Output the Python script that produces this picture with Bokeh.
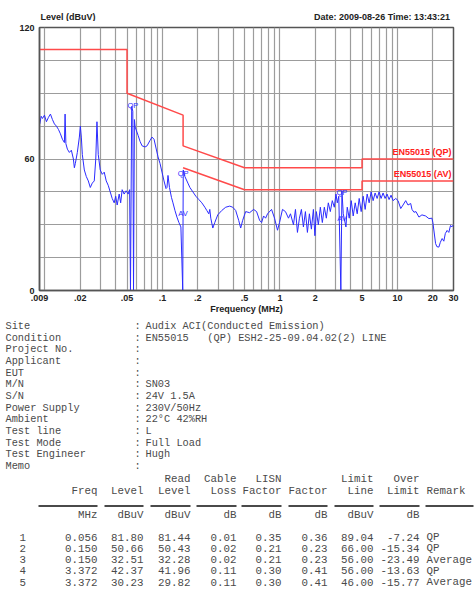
from bokeh.plotting import figure
from bokeh.models import FixedTicker, Range1d
from bokeh.layouts import column
from bokeh.embed import file_html
from bokeh.resources import INLINE
from bokeh.core.properties import value

# ---------------- data ----------------
trace_freq = (
    [0.00905, 0.0093, 0.00954, 0.00992, 0.01031, 0.01073, 0.01115, 0.0116, 0.01206, 0.01254,
     0.01304, 0.01356, 0.0141, 0.01466, 0.01486, 0.01509, 0.01554, 0.01616, 0.0168, 0.01748,
     0.01782, 0.01817, 0.01889, 0.01965, 0.02003, 0.02043, 0.02083, 0.02166, 0.02252, 0.02342,
     0.02435, 0.02532, 0.02632, 0.02711, 0.02775, 0.02846, 0.02959, 0.03078, 0.03199, 0.03327,
     0.03459, 0.03597, 0.0374, 0.03889, 0.04005, 0.04123, 0.04288, 0.04415, 0.04546, 0.04727,
     0.04915, 0.05111, 0.05263, 0.0535, 0.0548, 0.056, 0.0568, 0.0578]
    + [0.0586, 0.06212, 0.06458, 0.06717, 0.07121, 0.07404, 0.0785, 0.08163, 0.08489, 0.08825,
       0.09178, 0.09543, 0.09923, 0.1032, 0.1073, 0.1094, 0.1116, 0.1149, 0.1194, 0.123,
       0.1279, 0.133, 0.1382, 0.1437, 0.149, 0.1505]
    + [0.1554, 0.1648, 0.1714, 0.1817, 0.1927, 0.2043, 0.2166, 0.2297, 0.2388, 0.2482,
       0.2532, 0.2581, 0.2685, 0.2791, 0.2959, 0.3199, 0.3459, 0.374, 0.3966, 0.4205,
       0.4459, 0.4637, 0.482, 0.5111, 0.5525, 0.5973, 0.6334, 0.6718, 0.6986, 0.7264,
       0.7553, 0.7853, 0.8489, 0.9, 0.954, 0.9923, 1.052, 1.115, 1.183, 1.23,
       1.304, 1.356, 1.41, 1.466, 1.524, 1.585, 1.648, 1.714, 1.782, 1.853,
       1.927, 1.984, 2.042, 2.124, 2.208, 2.296, 2.388, 2.483, 2.582, 2.685,
       2.791, 2.903, 3.0, 3.078, 3.169, 3.30, 3.372, 3.459, 3.647, 3.74,
       3.889, 4.044, 4.205, 4.372, 4.546, 4.727, 4.915, 5.111, 5.314, 5.526,
       5.746, 5.974, 6.212, 6.458, 6.716, 6.983, 7.261, 7.55, 7.851, 8.163,
       8.489, 8.825, 9.178, 9.677, 10.12, 10.67, 11.16, 11.76, 12.3, 12.97,
       13.3, 13.83, 14.38, 15.24, 16.16, 17.37, 18.53, 19.65, 20.03, 21.12,
       21.66, 22.52, 23.18, 24.02, 24.82, 25.56, 26.47, 27.37, 28.3, 29.0, 30.0]
)
trace_level = (
    [76, 79.5, 78.5, 80, 77, 79, 80.5, 78, 76, 75,
     73.5, 71.5, 69, 67.5, 80.5, 67, 64.5, 63, 64, 60,
     56, 58, 63, 70, 75, 70, 62, 55, 52, 50,
     47, 49, 50, 60, 77, 62, 55, 53, 54, 50,
     48, 45, 42, 40, 43, 39, 44, 40, 46, 44,
     45.5, 44, 46, 0, 84, 81.8, 0, 78]
    + [74.6, 70.8, 68, 66, 65.5, 66, 68.5, 70, 69, 65,
       61, 58, 54, 50, 46.5, 47, 52.5, 47, 42.5, 40,
       36.5, 33.5, 31, 29, 0, 55]
    + [52, 49, 47, 45, 43, 41.5, 40, 38, 36.5, 35,
       37, 33, 28.5, 31, 34.5, 36.5, 38, 38.5, 38, 36.5,
       32, 28.5, 32, 36, 35.5, 37, 36, 32, 31, 34,
       33, 35, 37, 33, 27.5, 31, 37, 36, 33, 35,
       30, 37, 26.5, 33, 37, 29, 36, 26.5, 35, 28,
       37, 25, 36, 30, 38, 31, 38, 33, 40, 36,
       41, 38, 44, 40, 43, 0, 45.5, 35, 29, 38,
       33, 41, 34, 40, 35, 42, 36, 43, 37, 44,
       40, 45, 41, 44.5, 42, 45, 42, 44.5, 42, 44,
       41.5, 43.5, 41, 42, 41, 37.4, 39, 41, 39, 39.7,
       37, 35.7, 36, 33.5, 34.5, 34, 32.8, 33, 31, 21.4,
       20, 19.8, 22, 23.7, 22.5, 26, 27.4, 26.5, 29.7, 29, 30]
)

qp_limit_freq = [0.009, 0.05, 0.05, 0.15, 0.15, 0.5, 5, 5, 30]
qp_limit_level = [110, 110, 90, 80, 66, 56, 56, 60, 60]
av_limit_freq = [0.15, 0.5, 5, 5, 30]
av_limit_level = [56, 46, 46, 50, 50]

x_tick_values = [0.009, 0.02, 0.05, 0.1, 0.2, 0.5, 1, 2, 5, 10, 20, 30]
x_tick_labels = [".009", ".02", ".05", ".1", ".2", ".5", "1", "2", "5", "10", "20", "30"]
x_grid_values = [0.01, 0.03, 0.04, 0.06, 0.07, 0.08, 0.09, 0.3, 0.4, 0.6, 0.7, 0.8, 0.9,
                 3, 4, 6, 7, 8, 9]
y_tick_values = [0, 60, 120]
y_grid_values = [15, 30, 45, 75, 90, 105]

# final measurement table
meas_no = ["1", "2", "3", "4", "5"]
meas_freq = [0.056, 0.150, 0.150, 3.372, 3.372]
meas_level = [81.80, 50.66, 32.51, 42.37, 30.23]
meas_read = [81.44, 50.43, 32.28, 41.96, 29.82]
meas_cable = [0.01, 0.02, 0.02, 0.11, 0.11]
meas_lisn = [0.35, 0.21, 0.21, 0.30, 0.30]
meas_factor = [0.36, 0.23, 0.23, 0.41, 0.41]
meas_limit = [89.04, 66.00, 56.00, 56.00, 46.00]
meas_over = [-7.24, -15.34, -23.49, -13.63, -15.77]
meas_remark = ["QP", "QP", "Average", "QP", "Average"]

header_row1 = ["", "", "Read", "Cable", "LISN", "", "Limit", "Over", ""]
header_row2 = ["Freq", "Level", "Level", "Loss", "Factor", "Factor", "Line", "Limit", "Remark"]
unit_row = ["MHz", "dBuV", "dBuV", "dB", "dB", "dB", "dBuV", "dB", ""]

info_labels = ["Site", "Condition", "Project No.", "Applicant", "EUT", "M/N", "S/N",
               "Power Supply", "Ambient", "Test line", "Test Mode", "Test Engineer", "Memo"]
info_values = ["Audix ACI(Conducted Emission)",
               "EN55015\u00a0\u00a0\u00a0(QP) ESH2-25-09.04.02(2) LINE",
               "", "", "", "SN03", "24V 1.5A", "230V/50Hz", "22\u00b0C 42%RH", "L",
               "Full Load", "Hugh", ""]

header_left = "Level (dBuV)"
header_right = "Date: 2009-08-26  Time: 13:43:21"
x_label = "Frequency (MHz)"

# ---------------- styles ----------------
SANS = "Liberation Sans"
MONO = "Liberation Mono"
GRID = "#9c9c9c"
FRAME = "#555555"
TXT = "#4a4a4a"
RED = "#ff4a4a"
BLUE = "#2b2bff"
W = 476


def bare(fig):
    fig.outline_line_color = None
    fig.background_fill_color = "white"
    fig.border_fill_color = "white"
    fig.grid.visible = False


# ---------------- header line above chart ----------------
h = figure(width=W, height=21, x_range=Range1d(0, W), y_range=Range1d(21, 0),
           x_axis_location=None, y_axis_location=None, min_border=0, frame_align=False,
           output_backend="svg", toolbar_location=None)
bare(h)
h.text([40, 452], [16.5, 16.5], text=[header_left, header_right], text_align=["left", "right"],
       text_baseline="middle", text_font=value(SANS), text_font_style="bold",
       text_font_size="9px", text_color="#222222")

# ---------------- chart ----------------
p = figure(frame_width=414, frame_height=263, x_axis_type="log",
           x_range=Range1d(0.009, 30), y_range=Range1d(0, 120),
           output_backend="svg", toolbar_location=None, frame_align=False,
           min_border_left=39, min_border_right=23, min_border_top=6, min_border_bottom=25)
p.background_fill_color = "white"
p.border_fill_color = "white"
p.outline_line_color = FRAME
p.outline_line_width = 1.5

p.xaxis.ticker = FixedTicker(ticks=x_tick_values, minor_ticks=x_grid_values)
p.xaxis.major_label_overrides = {v: s for v, s in zip(x_tick_values, x_tick_labels)}
p.yaxis.ticker = FixedTicker(ticks=y_tick_values, minor_ticks=y_grid_values)

for ax in (p.xaxis, p.yaxis):
    ax.axis_line_color = FRAME
    ax.axis_line_width = 1.5
    ax.major_tick_line_color = FRAME
    ax.major_tick_out = 0
    ax.major_tick_in = 0
    ax.minor_tick_line_color = None
    ax.major_label_text_font = SANS
    ax.major_label_text_font_style = "bold"
    ax.major_label_text_font_size = "9px"
    ax.major_label_text_color = "#222222"
p.xaxis.major_label_standoff = 0
p.yaxis.major_label_standoff = 1
p.xaxis.axis_label = x_label
p.xaxis.axis_label_standoff = 0
p.xaxis.axis_label_text_font = SANS
p.xaxis.axis_label_text_font_style = "bold"
p.xaxis.axis_label_text_font_size = "9px"
p.xaxis.axis_label_text_color = "#222222"

for g in (p.xgrid, p.ygrid):
    g.grid_line_color = GRID
    g.grid_line_width = 1.2
    g.minor_grid_line_color = GRID
    g.minor_grid_line_width = 1.2

p.line(qp_limit_freq, qp_limit_level, line_color=RED, line_width=1.5)
p.line(av_limit_freq, av_limit_level, line_color=RED, line_width=1.5)
p.text([qp_limit_freq[-1], av_limit_freq[-1]], [qp_limit_level[-1], av_limit_level[-1]],
       text=["EN55015 (QP)", "EN55015 (AV)"], text_align="right", text_baseline="bottom",
       x_offset=-2, y_offset=-2, text_color="#ff2020", text_font=value(SANS),
       text_font_style="bold", text_font_size="9px")

p.line(trace_freq, trace_level, line_color=BLUE, line_width=1)
marker_tags = ["QP" if r == "QP" else "AV" for r in meas_remark]
p.text(meas_freq, meas_level, text=marker_tags, text_align="center", text_baseline="bottom",
       y_offset=-1, text_color=BLUE, text_font=value(SANS), text_font_size="7.5px")

# ---------------- report text ----------------
t = figure(width=W, height=276, x_range=Range1d(0, W), y_range=Range1d(591, 315),
           x_axis_location=None, y_axis_location=None, min_border=0, frame_align=False,
           output_backend="svg", toolbar_location=None)
bare(t)

FS_INFO = "10.3px"
FS_TAB = "10.8px"
info_y = [324.5 + 11.65 * i for i in range(len(info_labels))]
t.text([5] * len(info_labels), info_y, text=info_labels, text_baseline="middle",
       text_font=value(MONO), text_font_size=FS_INFO, text_color=TXT)
t.text([134] * len(info_labels), info_y, text=[":"] * len(info_labels), text_baseline="middle",
       text_font=value(MONO), text_font_size=FS_INFO, text_color=TXT)
t.text([145] * len(info_labels), info_y, text=info_values, text_baseline="middle",
       text_font=value(MONO), text_font_size=FS_INFO, text_color=TXT)

col_right = [97, 143, 190, 236, 281, 327, 373, 419]
remark_x = 426
rule_x0 = [38, 104, 150, 196, 241, 288, 334, 379, 425]
rule_x1 = [97, 143, 190, 236, 281, 327, 373, 419, 473]


def row_text(xs, y, texts, align):
    t.text(xs, [y] * len(xs), text=texts, text_align=align, text_baseline="middle",
           text_font=value(MONO), text_font_size=FS_TAB, text_color=TXT)


row_text(col_right, 477, header_row1[:8], "right")
row_text(col_right, 489, header_row2[:8], "right")
row_text([remark_x], 489, [header_row2[8]], "left")
t.segment(rule_x0, [504.5] * 9, rule_x1, [504.5] * 9, line_color="#4a4a4a", line_width=2)
row_text(col_right, 513, unit_row[:8], "right")

row_y = [535.7 + 11.25 * i for i in range(len(meas_no))]
columns = [
    [f"{v:.3f}" for v in meas_freq],
    [f"{v:.2f}" for v in meas_level],
    [f"{v:.2f}" for v in meas_read],
    [f"{v:.2f}" for v in meas_cable],
    [f"{v:.2f}" for v in meas_lisn],
    [f"{v:.2f}" for v in meas_factor],
    [f"{v:.2f}" for v in meas_limit],
    [f"{v:.2f}" for v in meas_over],
]
t.text([19] * len(meas_no), row_y, text=meas_no, text_baseline="middle",
       text_font=value(MONO), text_font_size=FS_TAB, text_color=TXT)
for xr, vals in zip(col_right, columns):
    t.text([xr] * len(vals), row_y, text=vals, text_align="right", text_baseline="middle",
           text_font=value(MONO), text_font_size=FS_TAB, text_color=TXT)
t.text([remark_x] * len(meas_remark), row_y, text=meas_remark, text_baseline="middle",
       text_font=value(MONO), text_font_size=FS_TAB, text_color=TXT)

layout = column(h, p, t, spacing=0)
open("out.html", "w").write(file_html(layout, INLINE))
